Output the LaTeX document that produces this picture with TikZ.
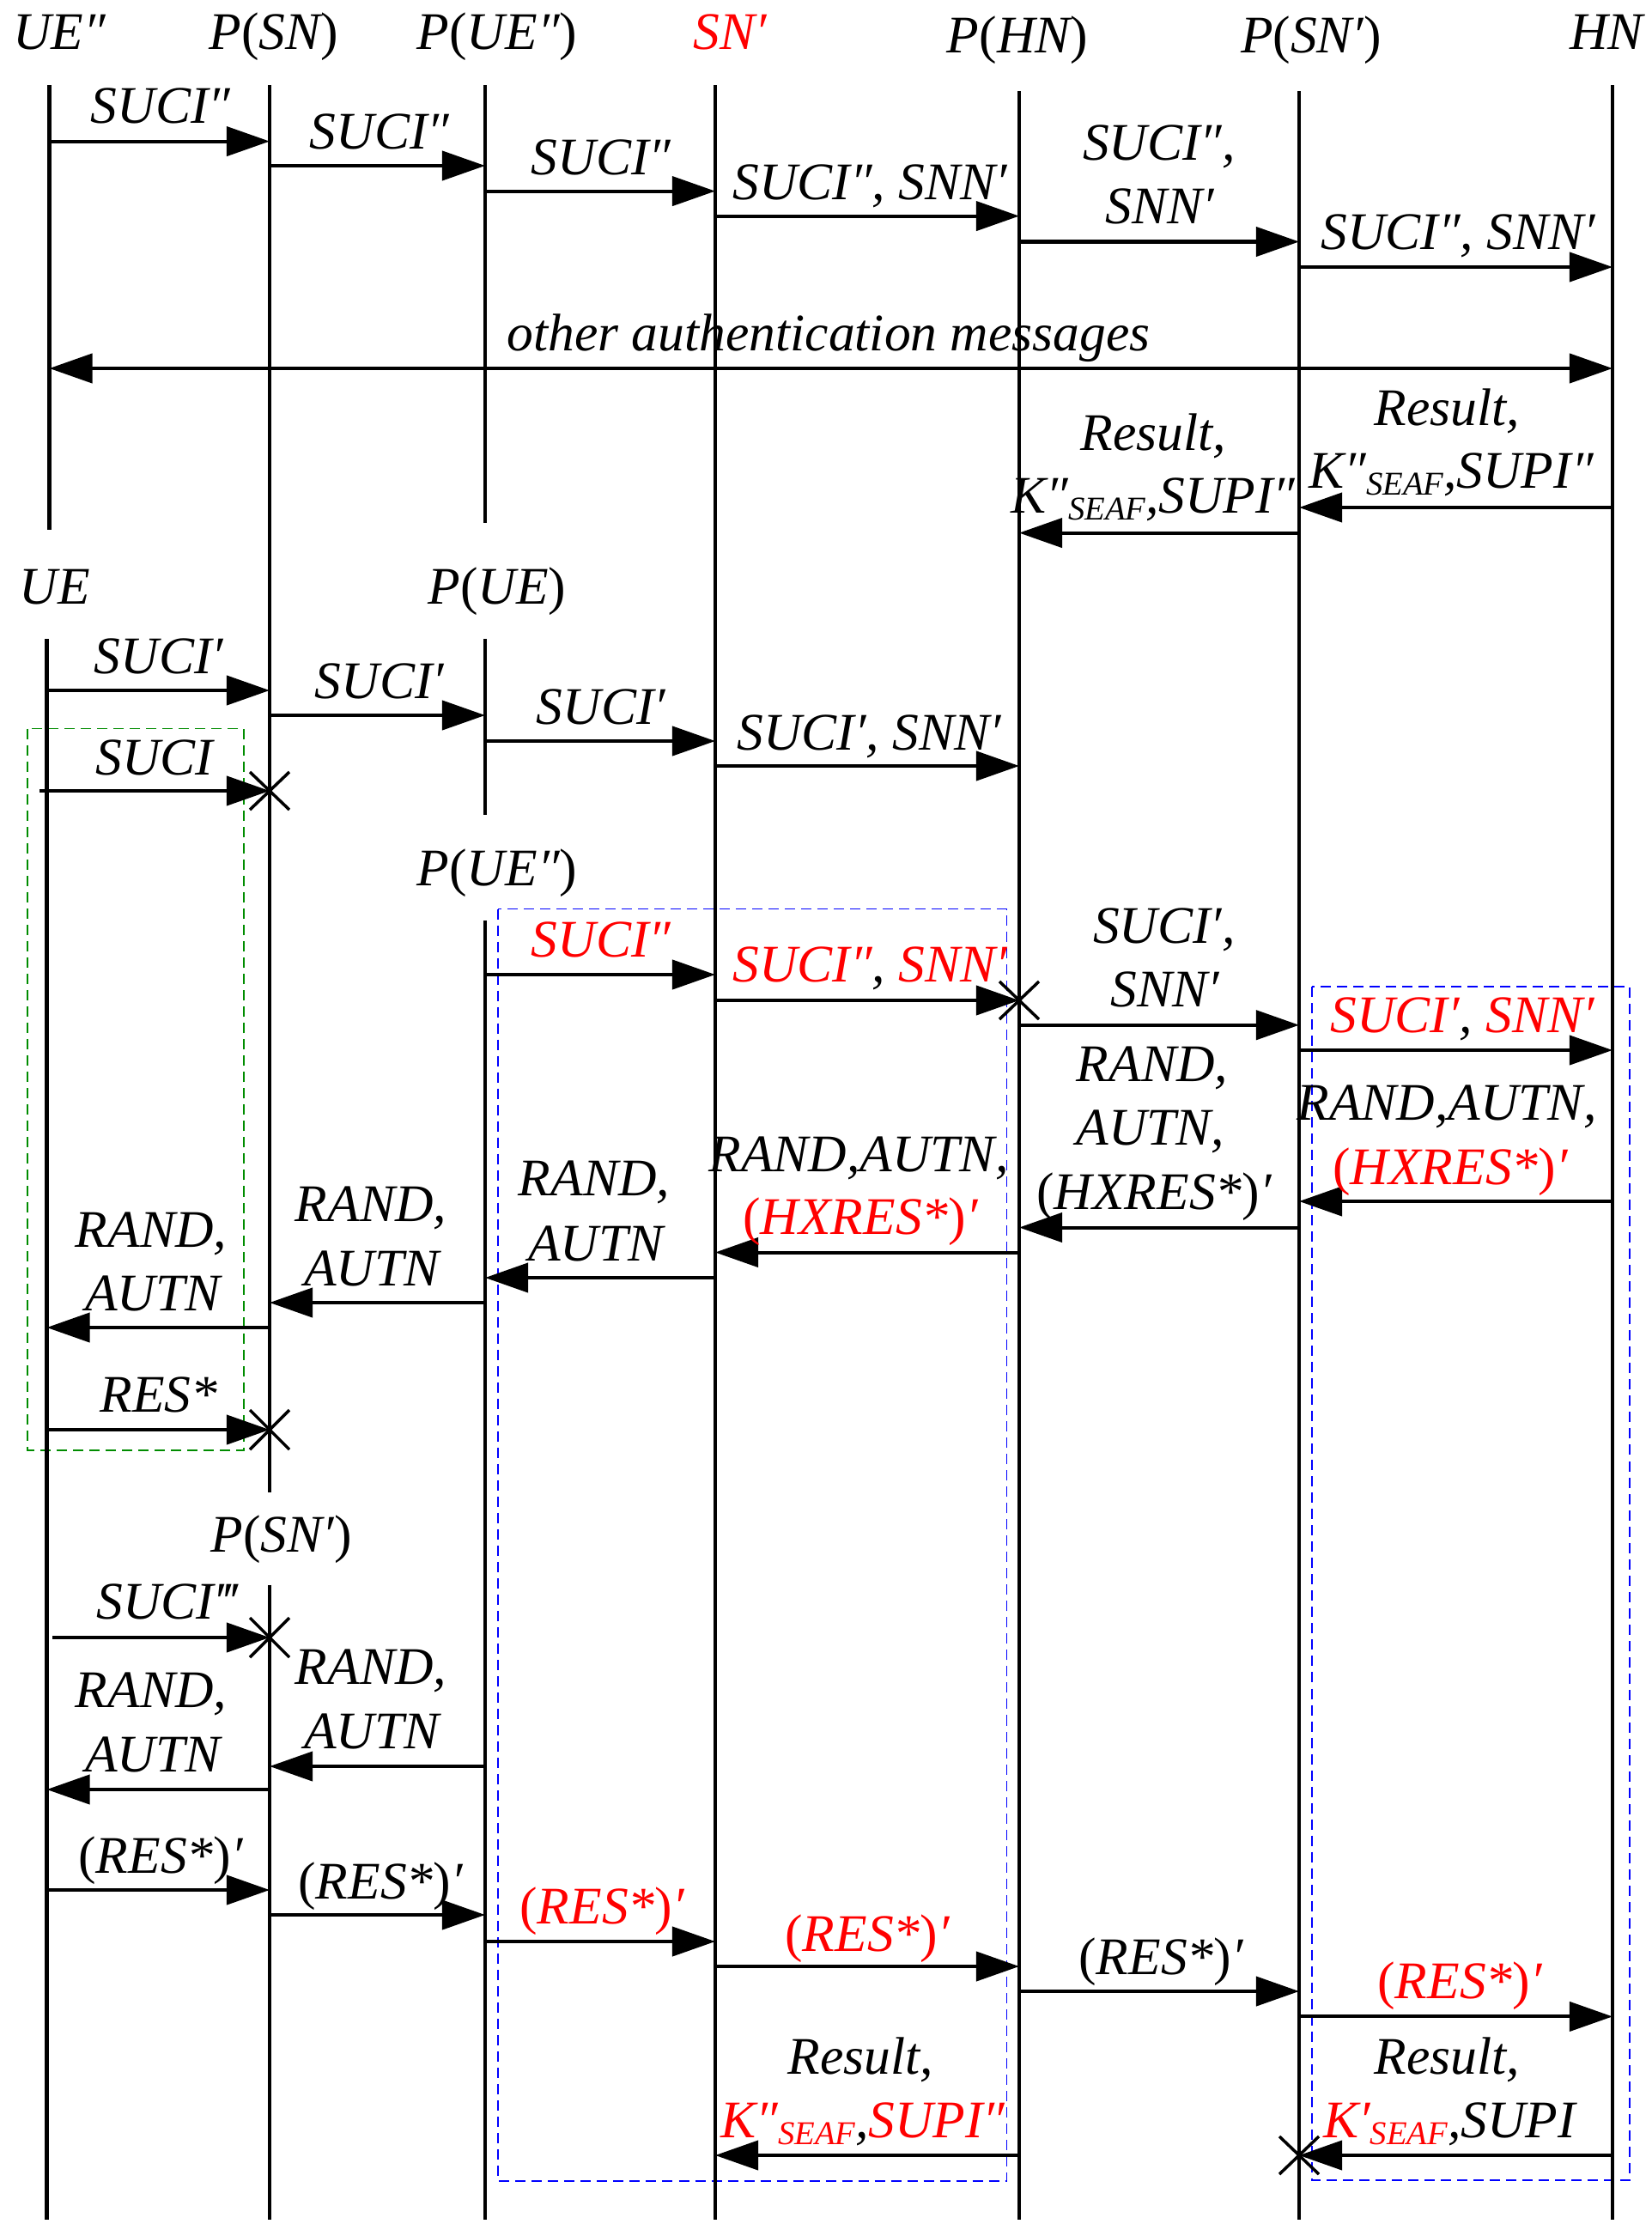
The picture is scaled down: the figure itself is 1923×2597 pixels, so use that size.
\documentclass[tikz,border=0pt]{standalone}
\usepackage{fontspec}
\setmainfont{Liberation Serif}
\usetikzlibrary{arrows.meta}
\definecolor{rd}{RGB}{255,0,0}
\definecolor{gbox}{RGB}{0,140,0}
\definecolor{bbox}{RGB}{0,0,255}
\newcommand\mysub[1]{\raisebox{-0.08cm}{\fontsize{11}{11}\selectfont #1}}
\newcommand\Lpar{{\upshape(}}
\newcommand\Rpar{{\upshape)}}
\newcommand\msg[4][]{\draw[msg,#1] (#2 |- 0,#4) -- (#3 |- 0,#4);}
\begin{document}
\begin{tikzpicture}[x=0.01cm,y=-0.01cm,
  >={Triangle[length=0.5cm,width=0.34cm]},
  life/.style={line width=0.04cm},
  msg/.style={line width=0.04cm,->},
  xm/.style={line width=0.035cm},
  lbl/.style={anchor=base,inner sep=0pt,font=\itshape\fontsize{17.5}{21}\selectfont},
  rt/.style={text=rd},
  dbox/.style={line width=0.012cm,dash pattern=on 0.12cm off 0.07cm}]
\useasboundingbox (0,0) rectangle (1923,2597);

% dashed boxes
\draw[dbox,gbox] (32,848.7) rectangle (284,1689);
\draw[dbox,bbox] (580,1058.5) rectangle (1172.5,2540);
\draw[dbox,bbox] (1528,1149) rectangle (1898,2539);

% headers
\node[lbl] (hUEpp) at (69,58) {UE″};
\node[lbl] (hPSN) at (319,58) {P\Lpar SN\Rpar};
\node[lbl] (hPUEpp) at (579,58) {P\Lpar UE″\Rpar};
\node[lbl,rt] (hSNp) at (850,58) {SN′};
\node[lbl] (hPHN) at (1185,62) {P\Lpar HN\Rpar};
\node[lbl] (hPSNp) at (1527,62) {P\Lpar SN′\Rpar};
\node[lbl] (hHN) at (1871,58) {HN};
\node[lbl] (hUE) at (64,703.6) {UE};
\node[lbl] (hPUE) at (579,703.6) {P\Lpar UE\Rpar};
\node[lbl] (hPUEpp2) at (579,1031.7) {P\Lpar UE″\Rpar};
\node[lbl] (hPSNp2) at (327.6,1807.6) {P\Lpar SN′\Rpar};

% lifelines
\coordinate (UEpp) at (57.5,99.5);   \coordinate (UEppE) at (57.5,617);
\coordinate (PSN) at (314,99.5);     \coordinate (PSNE) at (314,1738);
\coordinate (PUEpp) at (565,99.5);   \coordinate (PUEppE) at (565,609);
\coordinate (SNp) at (833,99.5);     \coordinate (SNpE) at (833,2584.5);
\coordinate (PHN) at (1187,106.5);   \coordinate (PHNE) at (1187,2584.5);
\coordinate (PSNp) at (1513,106.5);  \coordinate (PSNpE) at (1513,2584.5);
\coordinate (HN) at (1878,99.5);     \coordinate (HNE) at (1878,2584.5);
\coordinate (UE) at (54.5,744);      \coordinate (UEE) at (54.5,2584.5);
\coordinate (PUE) at (565,744);      \coordinate (PUEE) at (565,949);
\coordinate (PUEpp2) at (565,1072);  \coordinate (PUEpp2E) at (565,2584.5);
\coordinate (PSN2) at (314,1845.5);  \coordinate (PSN2E) at (314,2584.5);
\foreach \a in {UEpp,PSN,PUEpp,SNp,PHN,PSNp,HN,UE,PUE,PUEpp2,PSN2}
  \draw[life] (\a) -- (\a E);

% messages, first run
\msg{UEpp}{PSN}{164.6}
\msg{PSN}{PUEpp}{193}
\msg{PUEpp}{SNp}{222.6}
\msg{SNp}{PHN}{251.6}
\msg{PHN}{PSNp}{281.5}
\msg{PSNp}{HN}{311}
\msg[<->]{UEpp}{HN}{429}
\msg{HN}{PSNp}{591}
\msg{PSNp}{PHN}{620.6}

\node[lbl] (l1) at (187,144) {SUCI″};
\node[lbl] (l2) at (442,173) {SUCI″};
\node[lbl] (l3) at (700,203) {SUCI″};
\node[lbl] (l4) at (1013,232) {SUCI″, SNN′};
\node[lbl] (l5a) at (1350,186.6) {SUCI″,};
\node[lbl] (l5b) at (1351,260) {SNN′};
\node[lbl] (l6) at (1698,290) {SUCI″, SNN′};
\node[lbl] (l7) at (965,408) {other authentication messages};
\node[lbl] (l8a) at (1685,495) {Result,};
\node[lbl] (l8b) at (1690,568) {K″\mysub{SEAF},SUPI″};
\node[lbl] (l9a) at (1343,524.5) {Result,};
\node[lbl] (l9b) at (1343,597) {K″\mysub{SEAF},SUPI″};

% second run
\msg{UE}{PSN}{804}
\msg{PSN}{PUE}{833}
\msg{PUE}{SNp}{863}
\msg{SNp}{PHN}{892}
\coordinate (s14) at (46,921);
\msg{s14}{PSN}{921}
\coordinate (x14) at (PSN |- 0,921);
\draw[xm] ([shift={(-23,-22)}]x14) -- ([shift={(23,22)}]x14);
\draw[xm] ([shift={(-23,22)}]x14) -- ([shift={(23,-22)}]x14);

\node[lbl] (l10) at (185,784) {SUCI′};
\node[lbl] (l11) at (442,813) {SUCI′};
\node[lbl] (l12) at (700,843) {SUCI′};
\node[lbl] (l13) at (1012,873) {SUCI′, SNN′};
\node[lbl] (l14) at (180,902) {SUCI};

% third run
\msg{PUEpp2}{SNp}{1135}
\msg{SNp}{PHN}{1165}
\coordinate (x16) at (PHN |- 0,1165);
\draw[xm] ([shift={(-23,-22)}]x16) -- ([shift={(23,22)}]x16);
\draw[xm] ([shift={(-23,22)}]x16) -- ([shift={(23,-22)}]x16);
\msg{PHN}{PSNp}{1193.75}
\msg{PSNp}{HN}{1223}
\msg{HN}{PSNp}{1399}
\msg{PSNp}{PHN}{1429.5}
\msg{PHN}{SNp}{1458.5}
\msg{SNp}{PUEpp2}{1488}
\msg{PUEpp2}{PSN}{1517}
\msg{PSN}{UE}{1546}
\msg{UE}{PSN}{1665}
\coordinate (x25) at (PSN |- 0,1665);
\draw[xm] ([shift={(-23,-23)}]x25) -- ([shift={(23,23)}]x25);
\draw[xm] ([shift={(-23,23)}]x25) -- ([shift={(23,-23)}]x25);

\node[lbl,rt] (l15) at (700,1114) {SUCI″};
\node[lbl] (l16) at (1013,1143) {\color{rd}SUCI″\color{black}, \color{rd}SNN′};
\node[lbl] (l17a) at (1356,1098.7) {SUCI′,};
\node[lbl] (l17b) at (1357,1172) {SNN′};
\node[lbl] (l18) at (1703,1202) {\color{rd}SUCI′\color{black}, \color{rd}SNN′};
\node[lbl] (l19a) at (1685,1304) {RAND,AUTN,};
\node[lbl,rt] (l19b) at (1689,1379) {\Lpar HXRES*\Rpar′};
\node[lbl] (l20a) at (1342,1259) {RAND,};
\node[lbl] (l20b) at (1340,1333) {AUTN,};
\node[lbl] (l20c) at (1344,1408) {\Lpar HXRES*\Rpar′};
\node[lbl] (l21a) at (1000,1364) {RAND,AUTN,};
\node[lbl,rt] (l21b) at (1002,1437) {\Lpar HXRES*\Rpar′};
\node[lbl] (l22a) at (692,1392) {RAND,};
\node[lbl] (l22b) at (694,1468) {AUTN};
\node[lbl] (l23a) at (432,1422) {RAND,};
\node[lbl] (l23b) at (433,1497) {AUTN};
\node[lbl] (l24a) at (176,1452.7) {RAND,};
\node[lbl] (l24b) at (178,1526) {AUTN};
\node[lbl] (l25) at (185,1644.6) {RES*};

% fourth run
\coordinate (s26) at (61,1907);
\msg{s26}{PSN2}{1907}
\coordinate (x26) at (PSN2 |- 0,1907);
\draw[xm] ([shift={(-23,-23)}]x26) -- ([shift={(23,23)}]x26);
\draw[xm] ([shift={(-23,23)}]x26) -- ([shift={(23,-23)}]x26);
\msg{PUEpp2}{PSN2}{2057}
\msg{PSN2}{UE}{2084}
\msg{UE}{PSN2}{2201}
\msg{PSN2}{PUEpp2}{2230}
\msg{PUEpp2}{SNp}{2261}
\msg{SNp}{PHN}{2290}
\msg{PHN}{PSNp}{2319}
\msg{PSNp}{HN}{2348.4}
\msg{PHN}{SNp}{2510}
\msg{HN}{PSNp}{2510}
\coordinate (x36) at (PSNp |- 0,2510);
\draw[xm] ([shift={(-23,-22)}]x36) -- ([shift={(23,22)}]x36);
\draw[xm] ([shift={(-23,22)}]x36) -- ([shift={(23,-22)}]x36);

\node[lbl] (l26) at (194,1885.7) {SUCI‴};
\node[lbl] (l27a) at (432,1961.6) {RAND,};
\node[lbl] (l27b) at (433,2036) {AUTN};
\node[lbl] (l28a) at (176,1988) {RAND,};
\node[lbl] (l28b) at (178,2063) {AUTN};
\node[lbl] (l29) at (187,2181) {\Lpar RES*\Rpar′};
\node[lbl] (l30) at (443,2211) {\Lpar RES*\Rpar′};
\node[lbl,rt] (l31) at (701,2240) {\Lpar RES*\Rpar′};
\node[lbl,rt] (l32) at (1010,2272) {\Lpar RES*\Rpar′};
\node[lbl] (l33) at (1352,2299) {\Lpar RES*\Rpar′};
\node[lbl,rt] (l34) at (1700,2327.5) {\Lpar RES*\Rpar′};
\node[lbl] (l35a) at (1002,2415) {Result,};
\node[lbl] (l35b) at (1005,2489) {\color{rd}K″\mysub{SEAF}\color{black},\color{rd}SUPI″};
\node[lbl] (l36a) at (1685,2415) {Result,};
\node[lbl] (l36b) at (1688,2489) {\color{rd}K′\mysub{SEAF}\color{black},SUPI};
\end{tikzpicture}
\end{document}
